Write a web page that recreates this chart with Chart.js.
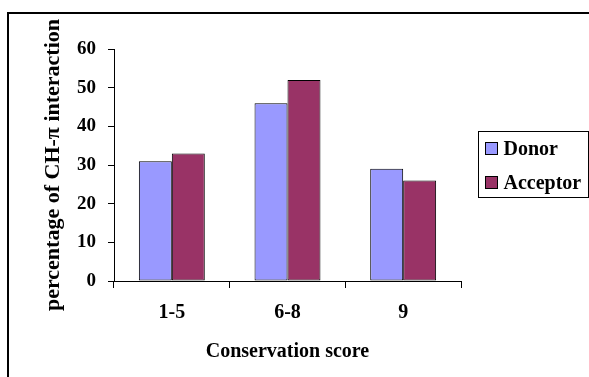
<!DOCTYPE html>
<html lang="en">
<head>
  <meta charset="UTF-8" />
  <title>CH-π interaction by conservation score</title>
  <script src="https://cdn.jsdelivr.net/npm/chart.js"></script>
  <style>
    body {
      margin: 0;
      background: #ffffff;
      overflow: hidden;
    }
    .wrap {
      position: relative;
      width: 589px;
      height: 377px;
      overflow: hidden;
    }
    .frame {
      position: absolute;
      left: 7px;
      top: 12px;
      width: 620px;
      height: 420px;
      border: 2px solid #000;
    }
    canvas {
      position: absolute;
      left: 0;
      top: 0;
    }
  </style>
</head>
<body>
  <div class="wrap">
    <div class="frame"></div>
    <canvas id="chart" width="589" height="377"></canvas>
  </div>

  <script>
    const categories = ["1-5", "6-8", "9"];
    const donor = [31, 46, 29];
    const acceptor = [33, 52, 26];
    const yTicks = [0, 10, 20, 30, 40, 50, 60];

    const fontFamily = '"Liberation Serif", "Times New Roman", serif';

    const datasets = [
      { label: "Donor", data: donor, backgroundColor: "#9999FF" },
      { label: "Acceptor", data: acceptor, backgroundColor: "#993366" }
    ].map(d => Object.assign(d, {
      borderColor: "#000",
      borderWidth: 1,
      borderSkipped: false,
      barPercentage: 1,
      categoryPercentage: 0.57
    }));

    // boxed legend on the right, drawn from the dataset labels and colours
    const boxLegend = {
      id: "boxLegend",
      afterDraw(chart) {
        const ctx = chart.ctx;
        const x = 478.5, y = 131.5, w = 110, h = 66;
        ctx.save();
        ctx.fillStyle = "#fff";
        ctx.fillRect(x, y, w, h);
        ctx.strokeStyle = "#000";
        ctx.lineWidth = 1;
        ctx.strokeRect(x, y, w, h);
        ctx.font = "bold 20px " + fontFamily;
        ctx.textBaseline = "middle";
        ctx.textAlign = "left";
        chart.data.datasets.forEach((d, i) => {
          const cy = y + 17 + i * 34;
          ctx.fillStyle = d.backgroundColor;
          ctx.fillRect(x + 7, cy - 6, 12, 12);
          ctx.strokeRect(x + 7, cy - 6, 12, 12);
          ctx.fillStyle = "#000";
          ctx.fillText(d.label, x + 25, cy + 1);
        });
        ctx.restore();
      }
    };

    const chart = new Chart(document.getElementById("chart"), {
      type: "bar",
      data: { labels: categories, datasets: datasets },
      plugins: [boxLegend],
      options: {
        responsive: false,
        animation: false,
        events: [],
        layout: { padding: { left: 0, top: 49, right: 128, bottom: 0 } },
        plugins: {
          legend: { display: false },
          tooltip: { enabled: false }
        },
        scales: {
          x: {
            offset: true,
            grid: {
              offset: true,
              drawOnChartArea: false,
              color: "#000",
              tickLength: 7
            },
            border: { color: "#000", width: 1 },
            ticks: {
              color: "#000",
              padding: 13,
              font: { family: fontFamily, size: 20, weight: "bold" }
            },
            title: {
              display: true,
              text: "Conservation score",
              color: "#000",
              padding: { top: 0, bottom: 13 },
              font: { family: fontFamily, size: 20, weight: "bold" }
            },
            afterFit: scale => { scale.height = 96; }
          },
          y: {
            min: 0,
            max: 60,
            afterBuildTicks: scale => {
              scale.ticks = yTicks.map(v => ({ value: v }));
            },
            grid: {
              drawOnChartArea: false,
              color: "#000",
              tickLength: 6
            },
            border: { color: "#000", width: 1 },
            ticks: {
              color: "#000",
              padding: 12,
              font: { family: fontFamily, size: 19, weight: "bold" }
            },
            title: {
              display: true,
              text: "percentage of CH-π interaction",
              color: "#000",
              padding: { top: 40, bottom: 0 },
              font: { family: fontFamily, size: 22, weight: "bold" }
            },
            afterFit: scale => { scale.width = 114; }
          }
        }
      }
    });
  </script>
</body>
</html>
